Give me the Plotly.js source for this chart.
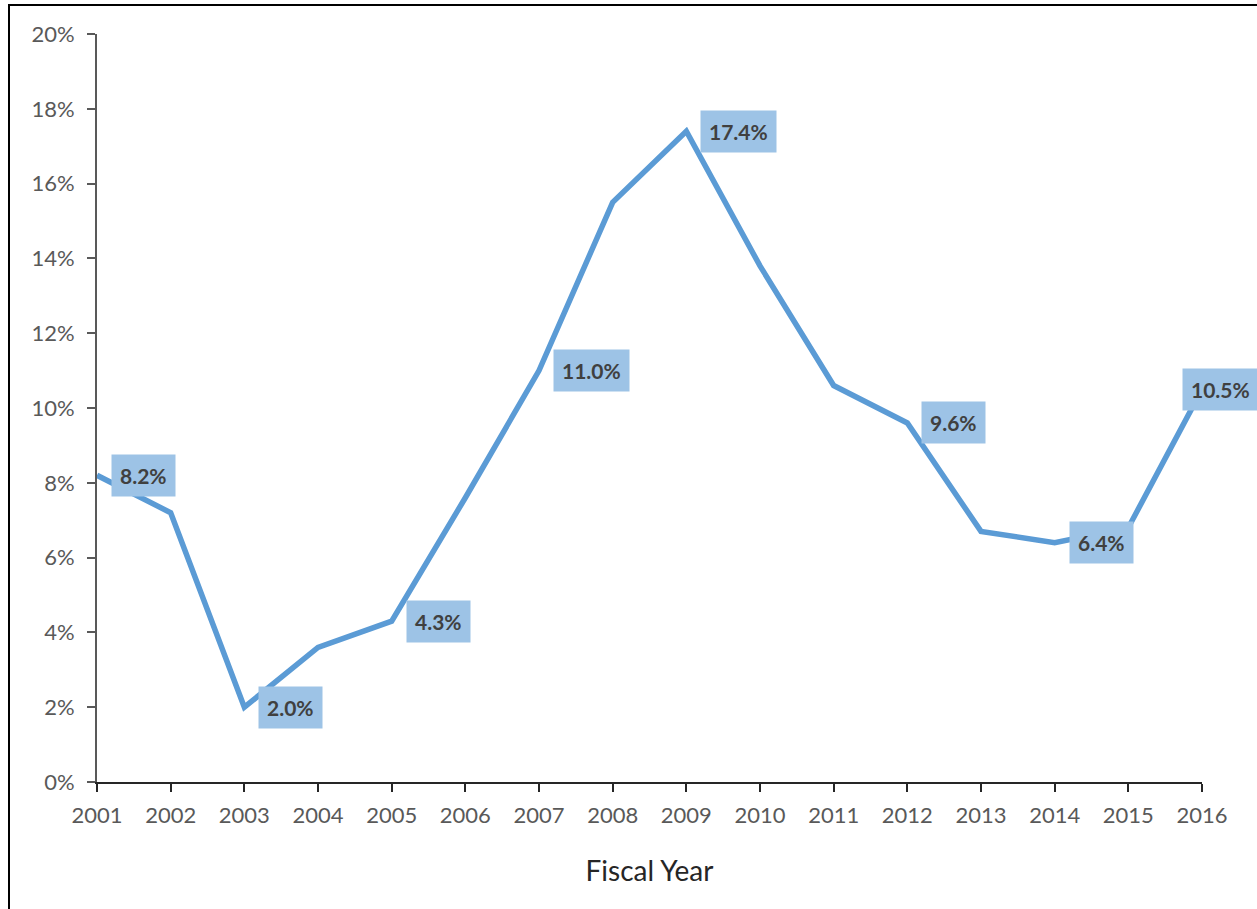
<!DOCTYPE html>
<html>
<head>
<meta charset="utf-8">
<script src="https://cdn.plot.ly/plotly-3.0.1.min.js"></script>
<style>
  html, body { margin: 0; padding: 0; background: #fff; }
  #frame { position: absolute; left: 8px; top: 4px; width: 1249px; height: 905px; border-left: 2px solid #000; border-top: 2px solid #000; box-sizing: border-box; }
  #chart { position: absolute; left: 0; top: 0; width: 1257px; height: 909px; }
</style>
</head>
<body>
<div id="frame"></div>
<div id="chart"></div>
<script>
const years = [2001, 2002, 2003, 2004, 2005, 2006, 2007, 2008, 2009, 2010, 2011, 2012, 2013, 2014, 2015, 2016];
const rates = [8.2, 7.2, 2.0, 3.6, 4.3, 7.6, 11.0, 15.5, 17.4, 13.8, 10.6, 9.6, 6.7, 6.4, 6.8, 10.5];
const labeledYears = [2001, 2003, 2005, 2007, 2009, 2012, 2014, 2016];
const yTickVals = [0, 2, 4, 6, 8, 10, 12, 14, 16, 18, 20];
const yTickText = ['0%', '2%', '4%', '6%', '8%', '10%', '12%', '14%', '16%', '18%', '20%'];

const trace = {
  x: years,
  y: rates,
  type: 'scatter',
  mode: 'lines',
  line: { color: '#5B9BD5', width: 5.5 },
  hoverinfo: 'skip'
};

const annotations = labeledYears.map(function (yr) {
  const v = rates[years.indexOf(yr)];
  const last = yr === years[years.length - 1];
  return {
    x: yr, y: v, xref: 'x', yref: 'y',
    text: '<b>' + v.toFixed(1) + '%</b>',
    showarrow: false,
    xanchor: 'left', yanchor: 'middle',
    xshift: last ? -20 : 14,
    bgcolor: '#9DC3E6',
    borderpad: 8,
    font: { family: 'Lato, "Open Sans", sans-serif', size: 21, color: '#404040' }
  };
});

const layout = {
  width: 1257, height: 909,
  margin: { l: 97, r: 55, t: 34, b: 127 },
  paper_bgcolor: 'rgba(0,0,0,0)',
  plot_bgcolor: 'rgba(0,0,0,0)',
  showlegend: false,
  font: { family: 'Lato, "Open Sans", sans-serif', color: '#595959' },
  xaxis: {
    range: [2001, 2016],
    tickvals: years,
    ticktext: years.map(String),
    showgrid: false, zeroline: false,
    showline: true, linecolor: '#262626', linewidth: 2,
    ticks: 'outside', ticklen: 8, tickwidth: 2, tickcolor: '#262626',
    tickfont: { size: 22, color: '#595959' },
    ticklabelstandoff: 5,
    title: { text: 'Fiscal Year', font: { size: 28, color: '#262626' }, standoff: 34 }
  },
  yaxis: {
    range: [0, 20],
    tickvals: yTickVals,
    ticktext: yTickText,
    showgrid: false, zeroline: false,
    showline: true, linecolor: '#595959', linewidth: 2,
    ticks: 'outside', ticklen: 8, tickwidth: 2, tickcolor: '#595959',
    tickfont: { size: 22, color: '#595959' },
    ticklabelstandoff: 8
  },
  annotations: annotations
};

Plotly.newPlot('chart', [trace], layout, { displayModeBar: false, staticPlot: true });
</script>
</body>
</html>
